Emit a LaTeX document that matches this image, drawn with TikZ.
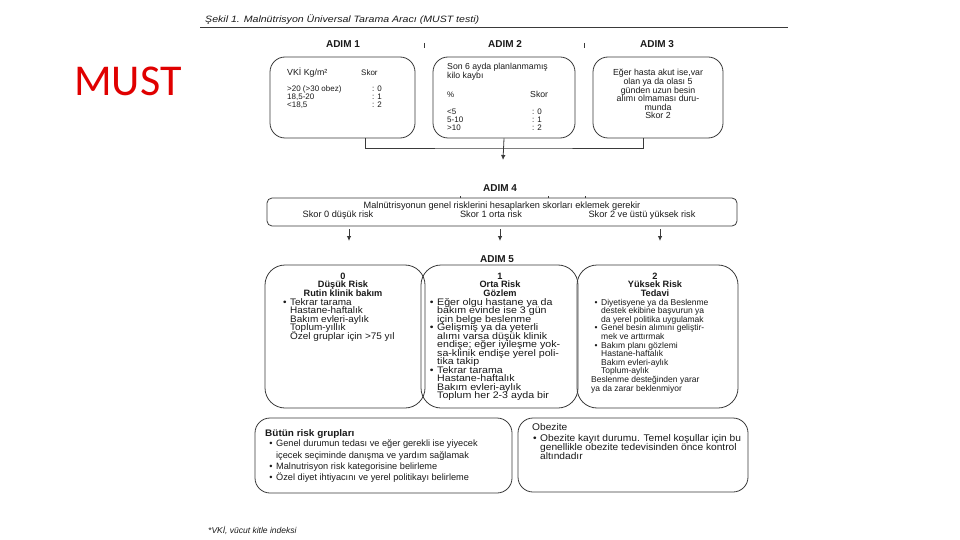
\documentclass[tikz,border=0pt]{standalone}
\usepackage{fontspec}
\setmainfont{Liberation Sans}
\newfontfamily\mustfont{Carlito}
\newfontfamily\wA[FakeStretch=1.05]{Liberation Sans}
\newfontfamily\wB[FakeStretch=1.12]{Liberation Sans}
\newfontfamily\wC[FakeStretch=1.15]{Liberation Sans}
\usetikzlibrary{arrows.meta}
\definecolor{linec}{HTML}{3A3A3A}
\definecolor{txtc}{HTML}{1A1A1A}
\definecolor{mustred}{HTML}{E00000}
\newcommand{\fsz}[1]{\fontsize{#1}{#1}\selectfont}
\newcommand{\bul}{\llap{\textbullet\hspace{3.5pt}}}
\begin{document}
\begin{tikzpicture}[x=1pt,y=-1pt,
  box/.style={draw=linec, line width=0.8pt, rounded corners=#1, inner sep=0},
  ln/.style={anchor=base west, inner sep=0, text=txtc, font=\fsz{8.5}},
  lnc/.style={anchor=base, inner sep=0, text=txtc, font=\fsz{9.2}},
  lnsm/.style={anchor=base west, inner sep=0, text=txtc, font=\fsz{8}},
  lnsmc/.style={anchor=base, inner sep=0, text=txtc, font=\fsz{8.8}},
  hdr/.style={anchor=base, inner sep=0, text=txtc, font=\bfseries\fsz{9.2}},
  adim/.style={anchor=base, inner sep=0, text=txtc, font=\bfseries\fsz{10}},
  conn/.style={draw=linec, line width=0.8pt},
  arr/.style={conn, -{Latex[length=5pt,width=4.5pt]}}]
\useasboundingbox (0,0) rectangle (960,540);
\fill[white] (0,0) rectangle (960,540);

% MUST label
\node[anchor=base west, inner sep=0, text=mustred, font=\mustfont\fontsize{44}{44}\selectfont] (must) at (74,96) {MUST};

% title
\node[anchor=base west, inner sep=0, text=txtc, font=\wC\itshape\fsz{9.2}] (title) at (205,23) {Şekil 1. Malnütrisyon Üniversal Tarama Aracı (MUST testi)};
\draw[conn] (200,27) -- (788,27);

% step labels
\node[adim] (ad1) at (343,48) {ADIM 1};
\node[adim] (ad2) at (505,48) {ADIM 2};
\node[adim] (ad3) at (657,48) {ADIM 3};
\draw[conn, line width=0.6pt] (424,43) -- (424,48);
\draw[conn, line width=0.6pt] (584,43) -- (584,48);

% step 1-3 boxes
\node[box=15, minimum width=145, minimum height=81] (s1) at (342.5,97.5) {};
\node[box=15, minimum width=142, minimum height=81] (s2) at (504,97.5) {};
\node[box=15, minimum width=130, minimum height=81] (s3) at (658,97.5) {};

% box 1 text
\node[lnsm, font=\fsz{8.8}] (v0) at (287,76) {VKİ Kg/m²};
\node[lnsm] (vs) at (361,76) {Skor};
\node[lnsm] (v1) at (287,92) {>20 (>30 obez)};
\node[lnsm] (v2) at (287,100) {18,5-20};
\node[lnsm] (v3) at (287,108) {<18,5};
\node[lnsm] (k1) at (372,92) {: 0};
\node[lnsm] (k2) at (372,100) {: 1};
\node[lnsm] (k3) at (372,108) {: 2};

% box 2 text
\node[lnsm, font=\fsz{8.7}] (w0) at (447,70) {Son 6 ayda planlanmamış};
\node[lnsm, font=\fsz{8.7}] (w1) at (447,79) {kilo kaybı};
\node[lnsm] (wp) at (447,98) {\%};
\node[lnsm, font=\fsz{8.7}] (ws) at (530,98) {Skor};
\node[lnsm] (w2) at (447,115) {<5};
\node[lnsm] (w3) at (447,123) {5-10};
\node[lnsm] (w4) at (447,131) {>10};
\node[lnsm] (m1) at (532,115) {: 0};
\node[lnsm] (m2) at (532,123) {: 1};
\node[lnsm] (m3) at (532,131) {: 2};

% box 3 text
\foreach \t [count=\i] in {{Eğer hasta akut ise,var}, olan ya da olası 5, günden uzun besin, alımı olmaması duru-, munda, Skor 2}
  \node[lnsmc] (u\i) at (658,{76+8.6*(\i-1)}) {\t};

% connectors to step 4
\coordinate (jn) at (503,148);
\coordinate (ar4) at (503,160);
\draw[conn] ([xshift=22.5]s1.south) |- (jn) -| ([xshift=-15]s3.south);
\draw[arr] (s2.south) -- (ar4);

% step 4
\node[adim] (ad4) at (500,191) {ADIM 4};
\node[box=5, minimum width=470, minimum height=28] (s4) at (502,212) {};
\draw[conn, line width=0.6pt] (460,198) -- (460,196);
\draw[conn, line width=0.6pt] (548,198) -- (548,196);
\draw[conn, line width=0.6pt] (585,198) -- (585,196);
\node[lnc] (r0) at (502,208) {Malnütrisyonun genel risklerini hesaplarken skorları eklemek gerekir};
\node[lnc] (r1) at (338,217) {Skor 0 düşük risk};
\node[lnc] (r2) at (491,217) {Skor 1 orta risk};
\node[lnc] (r3) at (642,217) {Skor 2 ve üstü yüksek risk};
\coordinate (t1) at (349,229); \coordinate (e1) at (349,241);
\coordinate (t2) at (500,229); \coordinate (e2) at (500,241);
\coordinate (t3) at (660,229); \coordinate (e3) at (660,241);
\draw[arr] (t1) -- (e1);
\draw[arr] (t2) -- (e2);
\draw[arr] (t3) -- (e3);

% step 5
\node[adim] (ad5) at (497,262) {ADIM 5};
\node[box=20, minimum width=160, minimum height=143] (s5a) at (345,336.5) {};
\node[box=20, minimum width=157, minimum height=143] (s5b) at (499.5,336.5) {};
\node[box=20, minimum width=161, minimum height=143] (s5c) at (657.5,336.5) {};

% box 5a
\foreach \t [count=\i] in {0, Düşük Risk, Rutin klinik bakım}
  \node[hdr] (ah\i) at (343,{279+8.5*(\i-1)}) {\t};
\foreach \t [count=\i] in {\bul Tekrar tarama, Hastane-haftalık, Bakım evleri-aylık, Toplum-yıllık, Özel gruplar için >75 yıl}
  \node[ln, font=\wA\fsz{9.5}] (a\i) at (290,{305+8.5*(\i-1)}) {\t};

% box 5b
\foreach \t [count=\i] in {1, Orta Risk, Gözlem}
  \node[hdr] (bh\i) at (500,{279+8.5*(\i-1)}) {\t};
\foreach \t [count=\i] in {\bul Eğer olgu hastane ya da, bakım evinde ise 3 gün, için belge beslenme, \bul Gelişmiş ya da yeterli, alımı varsa düşük klinik, endişe; eğer iyileşme yok-, sa-klinik endişe yerel poli-, tika takip, \bul Tekrar tarama, Hastane-haftalık, Bakım evleri-aylık, Toplum her 2-3 ayda bir}
  \node[ln, font=\wB\fsz{9.5}] (b\i) at (437,{305+8.5*(\i-1)}) {\t};

% box 5c
\foreach \t [count=\i] in {2, Yüksek Risk, Tedavi}
  \node[hdr] (ch\i) at (655,{279+8.7*(\i-1)}) {\t};
\foreach \t [count=\i] in {\bul Diyetisyene ya da Beslenme, destek ekibine başvurun ya, da yerel politika uygulamak, \bul Genel besin alımını geliştir-, mek ve arttırmak, \bul Bakım planı gözlemi, Hastane-haftalık, Bakım evleri-aylık, Toplum-aylık, \hspace*{-10pt}Beslenme desteğinden yarar, \hspace*{-10pt}ya da zarar beklenmiyor}
  \node[ln] (c\i) at (601,{305+8.6*(\i-1)}) {\t};

% box 6
\node[box=15, minimum width=257, minimum height=75] (s6) at (383.5,455.5) {};
\node[anchor=base west, inner sep=0, text=txtc, font=\wA\bfseries\fsz{9.5}] (g0) at (265,436) {Bütün risk grupları};
\node[ln, font=\fsz{9.2}] (g1) at (276,446) {\bul Genel durumun tedası ve eğer gerekli ise yiyecek};
\node[ln, font=\fsz{9.2}] (g2) at (276,458) {içecek seçiminde danışma ve yardım sağlamak};
\node[ln, font=\fsz{9.2}] (g3) at (276,469) {\bul Malnutrisyon risk kategorisine belirleme};
\node[ln, font=\fsz{9.2}] (g4) at (276,480) {\bul Özel diyet ihtiyacını ve yerel politikayı belirleme};

% box 7
\node[box=15, minimum width=230, minimum height=74] (s7) at (633,455) {};
\node[ln, font=\wA\fsz{9.7}] (o0) at (532,430) {Obezite};
\node[ln, font=\wA\fsz{9.7}] (o1) at (540,441) {\bul Obezite kayıt durumu. Temel koşullar için bu};
\node[ln, font=\wA\fsz{9.7}] (o2) at (540,450) {genellikle obezite tedevisinden önce kontrol};
\node[ln, font=\wA\fsz{9.7}] (o3) at (540,459) {altındadır};

% footnote
\node[anchor=base west, inner sep=0, text=txtc, font=\itshape\fsz{8.5}] (fn) at (208,533) {*VKİ, vücut kitle indeksi};
\end{tikzpicture}
\end{document}
